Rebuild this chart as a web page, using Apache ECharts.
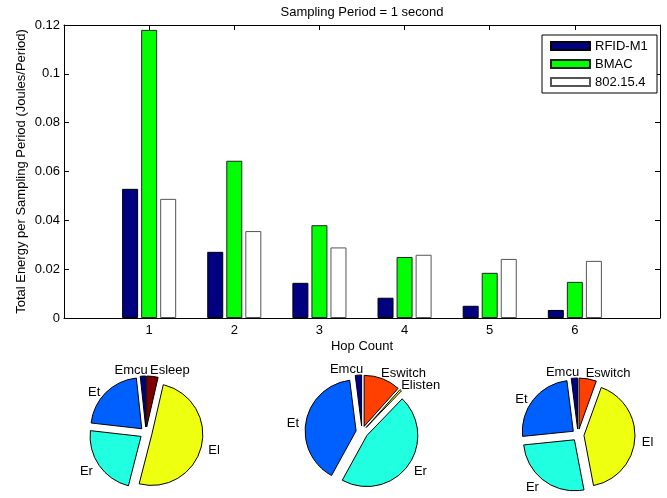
<!DOCTYPE html>
<html>
<head>
<meta charset="utf-8">
<script src="https://cdn.jsdelivr.net/npm/echarts@6/dist/echarts.min.js"></script>
<style>
  html, body { margin: 0; padding: 0; background: #fff; }
  #chart { width: 667px; height: 498px; }
</style>
</head>
<body>
<div id="chart"></div>
<script>
// Hop counts on the x axis and total energy per sampling period (J/period)
const hops = [1, 2, 3, 4, 5, 6];
const rfidM1 = [0.0529, 0.0271, 0.0144, 0.0083, 0.0050, 0.0033];
const bmac = [0.1180, 0.0644, 0.0380, 0.0250, 0.0185, 0.0148];
const ieee802154 = [0.0488, 0.0356, 0.0289, 0.0259, 0.0242, 0.0234];

// Energy breakdown of each protocol (percent of total)
const pieNames1 = ['Emcu', 'Et', 'Er', 'El', 'Esleep'];
const pieShares1 = [1.7, 21.5, 22.8, 50.4, 3.6];
const pieNames2 = ['Emcu', 'Et', 'Er', 'Elisten', 'Eswitch'];
const pieShares2 = [2.0, 40.0, 45.8, 0.6, 11.6];
const pieNames3 = ['Emcu', 'Et', 'Er', 'El', 'Eswitch'];
const pieShares3 = [2.0, 24.6, 26.4, 41.5, 5.5];

// jet-style colours per energy component
const componentColors = {
  Emcu: '#00008F', Et: '#0060FF', Er: '#20FFDF',
  El: '#EFFF10', Elisten: '#EFFF10', Eswitch: '#FF4000', Esleep: '#800000'
};

const FONT = '"Liberation Sans", Arial, Helvetica, sans-serif';
const FS = 13;

const chart = echarts.init(document.getElementById('chart'), null, { renderer: 'canvas' });

function barSeries(name, values, color, border) {
  return {
    name: name,
    type: 'bar',
    xAxisIndex: 0,
    yAxisIndex: 0,
    barWidth: 16,
    barGap: '19%',
    data: hops.map((h, i) => [h, values[i]]),
    itemStyle: { color: color, borderColor: border, borderWidth: 1 }
  };
}

// Labels above the pie are pulled in toward its top; the others sit a little lower
function pieLabelLayout(p) {
  const out = { hideOverlap: false };
  const lr = p.labelRect, r = p.rect;
  if (!lr || !r) return out;
  const labelMidY = lr.y + lr.height / 2;
  if (labelMidY < r.y + 4) {
    const onLeft = lr.x + lr.width / 2 < r.x + r.width / 2;
    out.dx = onLeft ? 7 : -5;
    out.dy = -1;
  } else {
    out.dy = 3;
  }
  return out;
}

function pieSeries(names, shares, center) {
  return {
    type: 'pie',
    center: center,
    radius: 51,
    startAngle: 90,
    clockwise: false,
    selectedMode: 'multiple',
    selectedOffset: 6,
    avoidLabelOverlap: false,
    minShowLabelAngle: 0,
    silent: true,
    label: {
      show: true, position: 'outside', color: '#000',
      fontSize: FS, fontFamily: FONT, distanceToLabelLine: 2
    },
    labelLine: { show: false, length: 5, length2: 0 },
    labelLayout: pieLabelLayout,
    itemStyle: { borderColor: '#000', borderWidth: 1 },
    select: { itemStyle: { borderColor: '#000', borderWidth: 1 } },
    data: names.map((n, i) => ({
      name: n, value: shares[i], selected: true,
      itemStyle: { color: componentColors[n] }
    }))
  };
}

const axisLineStyle = { show: true, onZero: false, lineStyle: { color: '#000', width: 1 } };
const tickStyle = { show: true, inside: true, length: 5, lineStyle: { color: '#000', width: 1 } };
const nameStyle = { color: '#000', fontSize: FS };

chart.setOption({
  animation: false,
  backgroundColor: '#fff',
  textStyle: { fontFamily: FONT },
  grid: { left: 64, right: 7, top: 25, bottom: 180, containLabel: false },
  legend: {
    orient: 'vertical',
    left: 542, top: 35,
    padding: [4, 8, 4, 8],
    itemGap: 4,
    itemWidth: 39, itemHeight: 8,
    icon: 'rect',
    borderColor: '#000', borderWidth: 1, backgroundColor: '#fff',
    textStyle: { fontSize: FS, color: '#000', fontFamily: FONT, width: 54, lineHeight: 14 },
    data: ['RFID-M1', 'BMAC', '802.15.4']
  },
  xAxis: [
    {
      type: 'value', position: 'bottom', min: 0, max: 7, interval: 1,
      axisLine: axisLineStyle, axisTick: tickStyle, splitLine: { show: false },
      axisLabel: {
        color: '#000', fontSize: FS, margin: 6,
        formatter: v => (hops.indexOf(v) >= 0 ? String(v) : '')
      },
      name: 'Hop Count', nameLocation: 'middle', nameGap: 22,
      nameMoveOverlap: false,
      nameTextStyle: nameStyle
    },
    {
      type: 'value', position: 'top', min: 0, max: 7, interval: 1,
      axisLine: axisLineStyle, axisTick: tickStyle, splitLine: { show: false },
      axisLabel: { show: false },
      name: 'Sampling Period = 1 second', nameLocation: 'middle', nameGap: 6,
      nameTextStyle: nameStyle
    }
  ],
  yAxis: [
    {
      type: 'value', position: 'left', min: 0, max: 0.12, interval: 0.02,
      axisLine: axisLineStyle, axisTick: tickStyle, splitLine: { show: false },
      axisLabel: { color: '#000', fontSize: FS, margin: 4 },
      name: 'Total Energy per Sampling Period (Joules/Period)',
      nameLocation: 'middle', nameGap: 36, nameRotate: 90,
      nameMoveOverlap: false,
      nameTextStyle: nameStyle
    },
    {
      type: 'value', position: 'right', min: 0, max: 0.12, interval: 0.02,
      axisLine: axisLineStyle, axisTick: tickStyle, splitLine: { show: false },
      axisLabel: { show: false }
    }
  ],
  series: [
    barSeries('RFID-M1', rfidM1, '#000080', '#000'),
    barSeries('BMAC', bmac, '#00FF00', '#222'),
    barSeries('802.15.4', ieee802154, '#FFFFFF', '#555'),
    pieSeries(pieNames1, pieShares1, [146, 433]),
    pieSeries(pieNames2, pieShares2, [362, 432]),
    pieSeries(pieNames3, pieShares3, [578, 435])
  ]
});
</script>
</body>
</html>
